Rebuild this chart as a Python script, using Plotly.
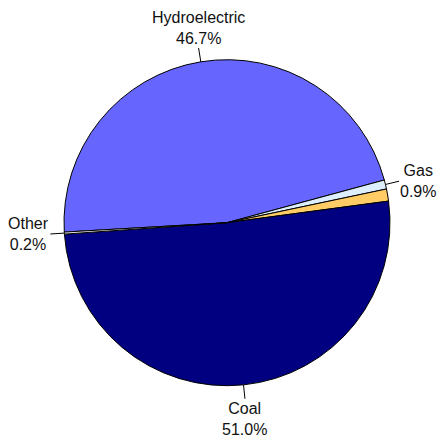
import math
import plotly.graph_objects as go

labels = ["Hydroelectric", "Gas", "Oil", "Coal", "Other"]
values = [46.7, 0.9, 1.2, 51.0, 0.2]
shown = [True, True, False, True, True]
colors = ["#6666FF", "#DDEEFF", "#FFCC66", "#000080", "#EEEEEE"]

W, H = 440, 438
CX, CY, R = 227.0, 222.7, 163.0
ROTATION = 266.7
LEAD = 14.0

fig = go.Figure()
fig.add_trace(go.Pie(
    labels=labels, values=values, sort=False, direction="clockwise",
    rotation=ROTATION, textinfo="none", hoverinfo="label+percent",
    marker=dict(colors=colors, line=dict(color="#000000", width=1)),
    domain=dict(x=[(CX - R) / W, (CX + R) / W], y=[1 - (CY + R) / H, 1 - (CY - R) / H]),
    showlegend=False,
))

def paper(px, py):
    return px / W, 1 - py / H

total = sum(values)
cum = 0.0
shapes, annots = [], []
for lab, v, s in zip(labels, values, shown):
    mid = ROTATION + (cum + v / 2) / total * 360.0
    cum += v
    if not s:
        continue
    a = math.radians(mid)
    dx, dy = math.sin(a), -math.cos(a)
    x0, y0 = paper(CX + R * dx, CY + R * dy)
    x1, y1 = paper(CX + (R + LEAD) * dx, CY + (R + LEAD) * dy)
    shapes.append(dict(type="line", xref="paper", yref="paper", x0=x0, y0=y0, x1=x1, y1=y1,
                       line=dict(color="#000000", width=1)))
    if abs(dx) > abs(dy):
        xa, ya = ("left" if dx > 0 else "right"), "middle"
    else:
        xa, ya = "center", ("bottom" if dy < 0 else "top")
    pct = v / total * 100
    annots.append(dict(x=x1, y=y1, xref="paper", yref="paper", showarrow=False,
                       text=f"{lab}<br>{pct:.1f}%", xanchor=xa, yanchor=ya, align="center",
                       borderpad=0,
                       font=dict(family="Liberation Sans, Arial, sans-serif", size=16, color="#111111")))

fig.update_layout(width=W, height=H, margin=dict(l=0, r=0, t=0, b=0),
                  paper_bgcolor="white", plot_bgcolor="white",
                  shapes=shapes, annotations=annots)
fig.write_html("out.html", config={"displayModeBar": False},
               post_script="document.body.style.margin='0';document.body.style.overflow='hidden';")
